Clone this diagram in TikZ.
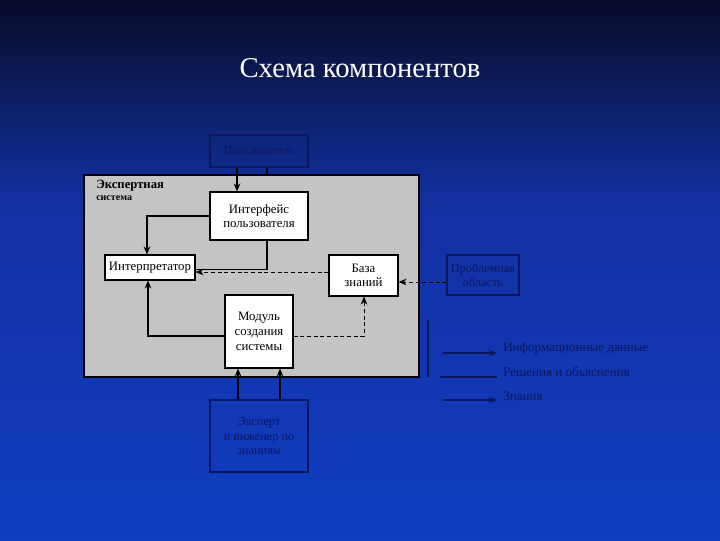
\documentclass[tikz,border=0pt]{standalone}
\usepackage{fontspec}
\setmainfont{Liberation Serif}
\usetikzlibrary{arrows.meta}
\definecolor{bgtop}{RGB}{8,12,40}
\definecolor{bgmid}{RGB}{18,48,160}
\definecolor{bgbot}{RGB}{16,62,196}
\definecolor{panel}{RGB}{196,196,196}
\definecolor{dk}{RGB}{12,22,95}
\tikzset{
  wbox/.style={draw=black,fill=white,line width=0.8pt,inner sep=0pt,align=center,font=\fontsize{9.6}{11}\selectfont},
  bbox/.style={draw=dk,line width=1pt,inner sep=0pt,align=center,text=dk,font=\fontsize{9.2}{11}\selectfont},
  ln/.style={line width=0.9pt,draw=black},
  arr/.style={ln,-{Stealth[length=6pt,width=5pt]}},
  darr/.style={line width=0.7pt,densely dashed,-{Stealth[length=6pt,width=5pt]}},
  dln/.style={line width=1pt,draw=dk},
  darrow/.style={dln,-{Stealth[length=6pt,width=5pt]}},
  lg/.style={anchor=west,text=dk,font=\fontsize{9.8}{11}\selectfont,inner sep=0pt}
}
\begin{document}
\begin{tikzpicture}[x=0.75pt,y=-0.75pt]
\useasboundingbox (0,0) rectangle (720,540);
\shade[top color=bgtop,bottom color=bgmid] (0,0) rectangle (720,200);
\shade[top color=bgmid,bottom color=bgbot] (0,200) rectangle (720,540);
\node[text=white,font=\fontsize{21.5}{24}\selectfont] (title) at (360,68) {Схема компонентов};
\node[draw=black,fill=panel,line width=1.2pt,minimum width=335*0.75pt,minimum height=202*0.75pt,inner sep=0pt] (panel) at (251.5,276) {};
\node[anchor=north west,align=left,font=\bfseries\fontsize{9.5}{9}\selectfont,inner sep=0pt] (lab1) at (96,180) {Экспертная};
\node[anchor=north west,align=left,font=\bfseries\fontsize{7.5}{7}\selectfont,inner sep=0pt] (lab2) at (96,196) {система};
\node[bbox,minimum width=98*0.75pt,minimum height=32*0.75pt] (user) at (259,151) {Пользователь};
\node[wbox,minimum width=98*0.75pt,minimum height=48*0.75pt] (ui) at (259,216) {Интерфейс\\пользователя};
\node[wbox,minimum width=90*0.75pt,minimum height=25*0.75pt] (interp) at (150,267.5) {Интерпретатор};
\node[wbox,minimum width=69*0.75pt,minimum height=41*0.75pt] (kb) at (363.5,275.5) {База\\знаний};
\node[wbox,minimum width=68*0.75pt,minimum height=73*0.75pt] (mod) at (259,331.5) {Модуль\\создания\\системы};
\node[bbox,minimum width=98*0.75pt,minimum height=72*0.75pt] (exp) at (259,436) {Эксперт\\и инженер по\\знаниям};
\node[bbox,minimum width=72*0.75pt,minimum height=40*0.75pt] (dom) at (483,275) {Проблемная\\область};
% connectors
\draw[arr] (user.south -| 237,0) -- (ui.north -| 237,0);
\draw[ln] (user.south -| 267,0) -- (panel.north -| 267,0);
\draw[ln] (ui.south -| 267,0) |- ([yshift=-1.5pt]interp.east);
\draw[arr] (ui.west) -| (interp.north -| 147,0);
\draw[darr] (kb.west |- 0,272) -- (interp.east |- 0,272);
\draw[darr] (dom.west |- 0,282) -- (kb.east |- 0,282);
\draw[darr] (mod.east |- 0,336) -| (kb.south -| 364,0);
\draw[arr] (mod.west |- 0,336) -| (interp.south -| 148,0);
\draw[arr] (exp.north -| 238,0) -- (mod.south -| 238,0);
\draw[arr] (exp.north -| 280,0) -- (mod.south -| 280,0);
% legend
\coordinate (v1) at (428,320); \coordinate (v2) at (428,377);
\draw[dln] (v1) -- (v2);
\coordinate (a1) at (443,353); \coordinate (a2) at (497,353);
\coordinate (b1) at (440,377); \coordinate (b2) at (497,377);
\coordinate (e1) at (443,400); \coordinate (e2) at (497,400);
\draw[darrow] (a1) -- (a2);
\draw[dln] (b1) -- (b2);
\draw[darrow] (e1) -- (e2);
\node[lg] (l1) at (503,348) {Информационные данные};
\node[lg] (l2) at (503,372) {Решения и объяснения};
\node[lg] (l3) at (503,396) {Знания};
\end{tikzpicture}
\end{document}
